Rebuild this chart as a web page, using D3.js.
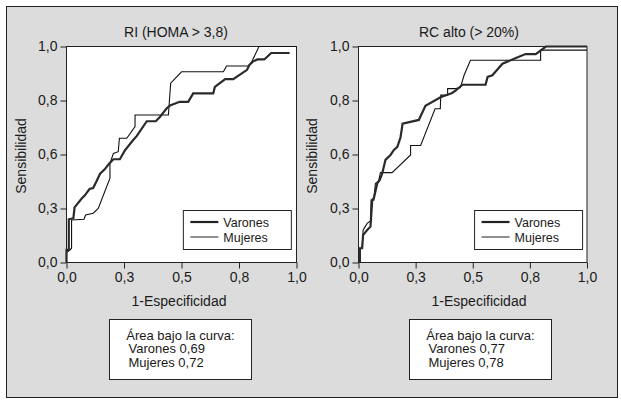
<!DOCTYPE html>
<html lang="es">
<head>
<meta charset="utf-8">
<title>Curvas ROC</title>
<script src="https://d3js.org/d3.v7.min.js"></script>
<style>
body { margin: 0; background: #fff; }
text { font-family: "Liberation Sans", Arial, sans-serif; fill: #1a1a1a; }
</style>
</head>
<body>
<div id="chart"></div>
<script>
// ROC points [1-especificidad, sensibilidad]
var riVarones = [[0,0],[0,0.058],[0.01,0.058],[0.01,0.2],[0.03,0.205],[0.035,0.255],[0.05,0.275],
  [0.066,0.296],[0.08,0.311],[0.1,0.34],[0.116,0.345],[0.13,0.375],[0.146,0.411],[0.165,0.43],
  [0.186,0.458],[0.204,0.478],[0.232,0.478],[0.254,0.519],[0.29,0.567],[0.305,0.585],[0.349,0.654],
  [0.388,0.654],[0.406,0.674],[0.435,0.713],[0.45,0.727],[0.492,0.744],[0.529,0.744],[0.551,0.783],
  [0.638,0.783],[0.645,0.813],[0.69,0.849],[0.725,0.849],[0.785,0.892],[0.795,0.914],[0.81,0.93],
  [0.83,0.94],[0.86,0.94],[0.89,0.97],[0.97,0.97]];
var riMujeres = [[0,0],[0,0.046],[0.015,0.058],[0.022,0.066],[0.022,0.197],[0.076,0.2],[0.083,0.22],
  [0.116,0.228],[0.138,0.25],[0.189,0.39],[0.189,0.459],[0.204,0.505],[0.225,0.513],[0.23,0.575],
  [0.262,0.575],[0.298,0.629],[0.298,0.683],[0.443,0.683],[0.453,0.83],[0.5,0.883],[0.682,0.883],
  [0.696,0.91],[0.79,0.91],[0.805,0.928],[0.837,1],[1,1]];
var rcVarones = [[0.006,0],[0.006,0.066],[0.016,0.066],[0.02,0.127],[0.038,0.15],[0.0525,0.166],
  [0.06,0.289],[0.067,0.297],[0.082,0.366],[0.093,0.382],[0.104,0.413],[0.118,0.475],[0.14,0.498],
  [0.155,0.521],[0.17,0.535],[0.184,0.58],[0.193,0.643],[0.264,0.66],[0.293,0.725],[0.359,0.765],
  [0.41,0.785],[0.426,0.797],[0.455,0.823],[0.556,0.823],[0.565,0.859],[0.586,0.867],[0.63,0.92],
  [0.689,0.947],[0.731,0.965],[0.776,0.965],[0.82,1],[1,1]];
var rcMujeres = [[0.006,0],[0.006,0.066],[0.016,0.066],[0.02,0.15],[0.038,0.181],[0.0525,0.192],
  [0.055,0.289],[0.067,0.289],[0.074,0.366],[0.088,0.378],[0.096,0.416],[0.147,0.416],[0.228,0.498],
  [0.228,0.542],[0.272,0.542],[0.335,0.712],[0.358,0.712],[0.36,0.775],[0.39,0.775],[0.39,0.805],
  [0.426,0.805],[0.446,0.81],[0.462,0.867],[0.49,0.936],[0.797,0.936],[0.797,0.983],[1,0.983]];

var tickValues = [0, 0.25, 0.5, 0.75, 1];
var xTickLabels = ["0,0", "0,3", "0,5", "0,8", "1,0"];
var yTickLabels = ["0,0", "0,3", "0,6", "0,8", "1,0"];
var panelTitles = ["RI (HOMA > 3,8)", "RC alto (> 20%)"];
var aucVarones = ["0,69", "0,77"];
var aucMujeres = ["0,72", "0,78"];
var seriesNames = ["Varones", "Mujeres"];

var W = 621, H = 403;

var svg = d3.select("#chart").append("svg")
  .attr("width", W)
  .attr("height", H);

// grey frame
svg.append("rect")
  .attr("x", 6.5).attr("y", 6.5)
  .attr("width", 611).attr("height", 391)
  .attr("fill", "#dcdcdc")
  .attr("stroke", "#222");

// layout of the two panels (pixels)
var panels = [
  { x0: 66.5, w: 230, titleX: 176, labelX: 179, yLabX: 26, boxX: 109.5, data: [riVarones, riMujeres] },
  { x0: 358.5, w: 228.5, titleX: 469, labelX: 479, yLabX: 317, boxX: 409.5, data: [rcVarones, rcMujeres] }
];
var plotTop = 46.5, plotH = 216;

panels.forEach(function(p, i) {
  var x = d3.scaleLinear().domain([0, 1]).range([p.x0, p.x0 + p.w]);
  var y = d3.scaleLinear().domain([0, 1]).range([plotTop + plotH, plotTop]);

  svg.append("rect")
    .attr("x", p.x0).attr("y", plotTop)
    .attr("width", p.w).attr("height", plotH)
    .attr("fill", "#fff")
    .attr("stroke", "#222");

  var xAxis = svg.append("g")
    .attr("transform", "translate(0," + (plotTop + plotH) + ")")
    .call(d3.axisBottom(x).tickValues(tickValues).tickSize(6).tickPadding(4)
      .tickFormat(function(d, k) { return xTickLabels[k]; }));
  var yAxis = svg.append("g")
    .attr("transform", "translate(" + p.x0 + ",0)")
    .call(d3.axisLeft(y).tickValues(tickValues).tickSize(6).tickPadding(3)
      .tickFormat(function(d, k) { return yTickLabels[k]; }));
  [xAxis, yAxis].forEach(function(a) {
    a.select(".domain").remove();
    a.selectAll("line").attr("stroke", "#222");
    a.selectAll("text").style("font-size", "14px").attr("fill", "#1a1a1a");
  });

  var line = d3.line()
    .x(function(d) { return x(d[0]); })
    .y(function(d) { return y(d[1]); });

  svg.append("path")
    .datum(p.data[1])
    .attr("d", line)
    .attr("fill", "none")
    .attr("stroke", "#111")
    .attr("stroke-width", 1.1);
  svg.append("path")
    .datum(p.data[0])
    .attr("d", line)
    .attr("fill", "none")
    .attr("stroke", "#2a2a2a")
    .attr("stroke-width", 2.2);

  // titles
  svg.append("text")
    .attr("x", p.titleX).attr("y", 37)
    .attr("text-anchor", "middle")
    .style("font-size", "14px")
    .text(panelTitles[i]);
  svg.append("text")
    .attr("x", p.labelX).attr("y", 306)
    .attr("text-anchor", "middle")
    .style("font-size", "14px")
    .text("1-Especificidad");
  svg.append("text")
    .attr("transform", "translate(" + p.yLabX + "," + 156 + ") rotate(-90)")
    .attr("text-anchor", "middle")
    .style("font-size", "14px")
    .text("Sensibilidad");

  // legend
  var lx = x(0.508), ly = 210.5;
  svg.append("rect")
    .attr("x", lx).attr("y", ly)
    .attr("width", 108).attr("height", 39)
    .attr("fill", "#fff")
    .attr("stroke", "#222");
  seriesNames.forEach(function(name, k) {
    var yy = ly + 11.5 + k * 15;
    svg.append("line")
      .attr("x1", lx + 7).attr("x2", lx + 35)
      .attr("y1", yy).attr("y2", yy)
      .attr("stroke", "#222")
      .attr("stroke-width", k == 0 ? 2.2 : 1);
    svg.append("text")
      .attr("x", lx + 40).attr("y", yy + 4.5)
      .style("font-size", "12.5px")
      .text(name);
  });

  // area under the curve box
  svg.append("rect")
    .attr("x", p.boxX).attr("y", 319.5)
    .attr("width", 142).attr("height", 60)
    .attr("fill", "#fff")
    .attr("stroke", "#222");
  svg.append("text")
    .attr("x", p.boxX + 71).attr("y", 339.5)
    .attr("text-anchor", "middle")
    .style("font-size", "13px")
    .text("Área bajo la curva:");
  svg.append("text")
    .attr("x", p.boxX + 19).attr("y", 353)
    .style("font-size", "13px")
    .text(seriesNames[0] + " " + aucVarones[i]);
  svg.append("text")
    .attr("x", p.boxX + 19).attr("y", 366.5)
    .style("font-size", "13px")
    .text(seriesNames[1] + " " + aucMujeres[i]);
});
</script>
</body>
</html>
